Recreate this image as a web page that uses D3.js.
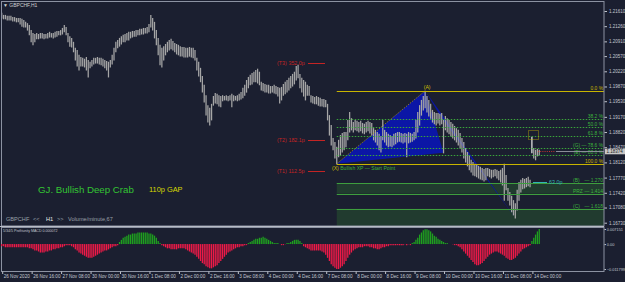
<!DOCTYPE html>
<html><head><meta charset="utf-8">
<script src="https://cdn.jsdelivr.net/npm/d3@7/dist/d3.min.js"></script>
<style>
html,body{margin:0;padding:0;background:#1b1f30;overflow:hidden;}
svg{display:block;font-family:"Liberation Sans",Arial,sans-serif;}
</style></head><body>
<svg id="chart" width="625" height="282"></svg>
<script>
// ---------------- DATA ----------------
const timeLabels = ["26 Nov 2020","26 Nov 16:00","27 Nov 08:00","30 Nov 00:00","30 Nov 16:00","1 Dec 08:00","2 Dec 00:00","2 Dec 16:00","3 Dec 08:00","4 Dec 00:00","4 Dec 16:00","7 Dec 08:00","8 Dec 00:00","8 Dec 16:00","9 Dec 08:00","10 Dec 00:00","10 Dec 16:00","11 Dec 08:00","14 Dec 00:00"];
const timeLabelBars = [0,16,32,48,64,80,96,112,128,144,160,176,192,208,224,240,256,272,288];
const priceTicks = [1.21610,1.21260,1.20910,1.20570,1.20220,1.19870,1.19530,1.19170,1.18820,1.18470,1.18120,1.17770,1.17420,1.17080,1.16730];

const highs = [
1.2157,1.2152,1.2152,1.2150,1.2150,1.2150,1.2147,1.2147,1.2145,1.2145,
1.2145,1.2143,1.2140,1.2136,1.2133,1.2129,1.2117,1.2110,1.2108,
1.2110,1.2108,1.2110,1.2110,1.2108,1.2108,1.2110,1.2113,1.2110,1.2110,1.2113,1.2115,1.2115,1.2117,1.2122,
1.2129,1.2124,
1.2110,1.2103,1.2099,1.2090,1.2076,
1.2071,1.2060,1.2055,
1.2053,1.2051,1.2055,1.2048,1.2044,1.2048,1.2053,1.2053,1.2055,1.2053,1.2053,1.2051,1.2048,1.2046,1.2044,
1.2048,1.2060,1.2076,1.2090,1.2094,1.2099,
1.2103,1.2106,1.2108,1.2110,1.2113,1.2113,
1.2115,1.2115,1.2117,1.2117,1.2120,1.2120,1.2122,1.2122,1.2124,1.2131,
1.2152,1.2145,
1.2136,1.2117,1.2099,1.2083,1.2076,1.2080,
1.2085,1.2090,1.2094,1.2097,1.2092,1.2087,1.2085,1.2083,1.2080,1.2078,1.2078,1.2076,1.2076,1.2078,1.2076,1.2076,1.2071,
1.2053,1.2044,1.2030,1.2011,1.1991,1.1967,1.1944,
1.1938,1.1947,
1.1965,1.1972,1.1970,1.1967,1.1965,1.1967,1.1965,
1.1967,1.1965,1.1967,1.1970,1.1967,1.1965,1.1967,1.1970,1.1974,
1.1984,1.1991,1.2002,1.2009,1.2014,1.2018,1.2021,
1.2025,1.2028,1.2021,
1.1998,1.1995,1.1993,1.1991,1.1991,1.1988,1.1988,1.1991,1.1988,1.1986,1.1984,1.1986,
1.1993,1.1998,1.2002,1.2007,1.2011,1.2016,1.2021,1.2034,
1.2037,
1.2016,1.2007,1.2002,1.1998,1.1991,1.1988,
1.1967,1.1965,1.1963,1.1965,1.1963,1.1961,1.1958,1.1958,1.1956,
1.1947,1.1921,1.1898,1.1868,1.1859,
1.1848,
1.1864,1.1875,1.1880,1.1882,1.1882,
1.1910,1.1928,1.1914,
1.1905,1.1910,1.1908,1.1905,1.1908,1.1903,1.1901,1.1905,1.1908,1.1905,1.1903,
1.1891,1.1887,1.1882,1.1878,1.1873,
1.1910,
1.1887,1.1882,1.1878,1.1875,1.1873,1.1878,1.1880,1.1882,
1.1882,1.1880,1.1878,1.1880,1.1878,1.1882,1.1880,1.1878,1.1882,
1.1910,1.1928,1.1944,
1.1956,1.1965,1.1977,
1.1965,1.1956,1.1947,
1.1933,1.1928,1.1926,1.1926,1.1924,1.1926,
1.1910,
1.1919,1.1914,1.1910,1.1905,1.1901,1.1896,1.1891,1.1887,1.1880,
1.1868,1.1859,1.1845,1.1836,1.1829,
1.1818,1.1813,1.1809,1.1806,1.1804,1.1802,1.1799,1.1797,1.1799,
1.1799,1.1797,1.1795,1.1795,1.1797,1.1795,1.1792,1.1795,
1.1799,1.1809,1.1783,
1.1753,1.1744,1.1735,1.1725,1.1718,
1.1749,1.1767,1.1772,1.1776,1.1774,
1.1776,1.1779,1.1772,
1.1871,
1.1845,1.1841,1.1843,1.1841
];
const lows = [
1.2145,1.2143,1.2143,1.2140,1.2140,1.2140,1.2138,1.2138,1.2136,1.2136,
1.2131,1.2126,1.2124,1.2124,1.2117,1.2106,1.2090,1.2083,1.2090,
1.2097,1.2097,1.2099,1.2099,1.2097,1.2099,1.2099,1.2101,1.2101,1.2099,1.2101,1.2103,1.2106,1.2106,1.2108,
1.2113,1.2106,
1.2090,1.2080,1.2078,1.2067,1.2048,
1.2034,1.2025,1.2034,
1.2034,1.2032,1.2025,1.2009,1.2030,1.2034,1.2039,1.2041,1.2041,1.2039,1.2037,1.2034,1.2030,1.2025,1.2009,
1.2032,1.2039,1.2048,1.2067,1.2076,1.2080,
1.2085,1.2090,1.2090,1.2094,1.2094,1.2099,
1.2101,1.2103,1.2103,1.2106,1.2106,1.2108,1.2108,1.2110,1.2110,1.2113,
1.2124,1.2117,
1.2099,1.2083,1.2060,1.2037,1.2032,1.2048,
1.2060,1.2067,1.2071,1.2074,1.2071,1.2067,1.2062,1.2060,1.2057,1.2057,1.2055,1.2055,1.2055,1.2057,1.2055,1.2053,1.2048,
1.2025,1.2011,1.1998,1.1974,1.1951,1.1921,1.1905,
1.1898,1.1910,
1.1944,1.1949,1.1947,1.1942,1.1940,1.1954,1.1956,
1.1956,1.1954,1.1956,1.1940,1.1954,1.1956,1.1954,1.1956,1.1958,
1.1961,1.1967,1.1974,1.1984,1.1991,1.1993,1.1998,
1.1998,1.1995,1.1991,
1.1979,1.1977,1.1974,1.1974,1.1972,1.1972,1.1974,1.1972,1.1970,1.1965,1.1949,1.1956,
1.1967,1.1970,1.1974,1.1979,1.1984,1.1988,1.1993,1.2002,
1.2007,
1.1984,1.1974,1.1965,1.1956,1.1967,1.1967,
1.1951,1.1949,1.1947,1.1947,1.1944,1.1942,1.1942,1.1940,1.1940,
1.1910,1.1875,1.1852,1.1841,1.1822,
1.1809,
1.1825,1.1829,1.1836,1.1841,1.1848,
1.1864,1.1882,1.1887,
1.1882,1.1887,1.1885,1.1882,1.1885,1.1880,1.1878,1.1882,1.1885,1.1880,1.1875,
1.1864,1.1859,1.1852,1.1841,1.1836,
1.1864,
1.1859,1.1852,1.1848,1.1850,1.1848,1.1852,1.1855,1.1859,
1.1861,1.1859,1.1857,1.1859,1.1825,1.1857,1.1859,1.1861,1.1864,
1.1868,1.1882,1.1898,
1.1921,1.1933,1.1938,
1.1928,1.1919,1.1914,
1.1905,1.1901,1.1898,1.1903,1.1898,1.1901,
1.1834,
1.1887,1.1882,1.1878,1.1873,1.1868,1.1864,1.1859,1.1852,1.1845,
1.1836,1.1822,1.1813,1.1804,1.1795,
1.1790,1.1783,1.1781,1.1779,1.1776,1.1774,1.1772,1.1769,1.1772,
1.1781,1.1779,1.1776,1.1779,1.1781,1.1776,1.1772,1.1767,
1.1760,1.1725,1.1749,
1.1725,1.1714,1.1698,1.1691,1.1684,
1.1702,1.1725,1.1744,1.1751,1.1753,
1.1756,1.1758,1.1756,
1.1834,
1.1822,1.1818,1.1827,1.1829
];
const macd = [
-0.0010,-0.0010,-0.0015,-0.0015,-0.0015,-0.0015,-0.0015,-0.0015,-0.0015,-0.0015,-0.0015,-0.0015,-0.0015,-0.0015,-0.0015,-0.0020,
-0.0020,-0.0025,-0.0030,-0.0030,-0.0035,-0.0040,-0.0040,-0.0040,-0.0035,-0.0035,-0.0030,-0.0030,
-0.0025,-0.0025,-0.0020,-0.0020,-0.0015,-0.0015,-0.0010,-0.0005,
-0.0005,-0.0005,
-0.0010,-0.0015,-0.0025,-0.0030,-0.0040,-0.0045,-0.0050,-0.0055,-0.0060,-0.0065,
-0.0065,-0.0065,-0.0060,-0.0055,-0.0050,-0.0045,-0.0040,
-0.0035,-0.0030,-0.0030,-0.0025,-0.0020,-0.0015,-0.0010,-0.0010,-0.0005,
0.0010,0.0020,0.0030,0.0035,0.0040,0.0045,0.0045,0.0050,0.0050,0.0050,0.0055,0.0055,0.0055,0.0055,0.0055,
0.0055,0.0050,0.0050,0.0045,0.0040,0.0030,0.0015,0.0005,
-0.0005,-0.0010,-0.0015,-0.0020,-0.0020,-0.0025,-0.0025,-0.0025,-0.0025,-0.0020,-0.0020,-0.0020,-0.0020,-0.0025,
-0.0030,-0.0035,-0.0040,-0.0045,-0.0050,-0.0060,-0.0070,-0.0080,-0.0090,-0.0095,-0.0105,-0.0110,-0.0115,-0.0115,
-0.0110,-0.0105,-0.0100,-0.0090,-0.0080,-0.0070,-0.0060,-0.0050,-0.0040,-0.0035,-0.0030,
-0.0025,-0.0020,-0.0015,-0.0015,-0.0010,-0.0010,-0.0005,-0.0005,
0.0005,0.0010,0.0015,0.0020,0.0025,0.0025,0.0030,0.0030,0.0035,0.0030,0.0025,0.0020,0.0015,
0.0010,0.0005,0.0005,0.0005,0.0001,-0.0005,-0.0005,-0.0001,0.0005,0.0005,
0.0010,0.0015,0.0020,0.0020,0.0020,0.0015,0.0005,
-0.0010,-0.0015,-0.0020,-0.0025,-0.0030,-0.0030,-0.0030,-0.0030,-0.0030,-0.0030,-0.0035,-0.0040,
-0.0050,-0.0065,-0.0080,-0.0095,-0.0105,-0.0112,-0.0118,-0.0118,-0.0112,-0.0105,
-0.0095,-0.0080,-0.0065,-0.0050,-0.0040,-0.0030,-0.0025,-0.0020,
-0.0015,-0.0015,-0.0015,-0.0010,-0.0010,-0.0010,-0.0015,-0.0015,-0.0020,-0.0020,-0.0025,-0.0025,
-0.0020,-0.0015,-0.0015,-0.0010,-0.0010,-0.0005,-0.0005,-0.0005,-0.0005,-0.0005,
-0.0005,-0.0005,-0.0005,-0.0001,-0.0005,-0.0001,-0.0005,
0.0005,0.0010,0.0020,0.0030,0.0045,0.0055,0.0065,0.0070,0.0070,0.0065,0.0060,0.0050,0.0040,0.0035,0.0025,0.0020,0.0015,0.0010,0.0005,
0.0005,0.0001,0.0001,-0.0001,-0.0005,-0.0005,
-0.0010,-0.0015,-0.0025,-0.0035,-0.0045,-0.0055,-0.0065,-0.0075,-0.0085,-0.0095,
-0.0100,-0.0100,-0.0095,-0.0090,-0.0080,-0.0070,-0.0060,-0.0050,-0.0045,
-0.0040,-0.0035,-0.0035,-0.0040,-0.0045,
-0.0050,-0.0055,-0.0065,-0.0070,-0.0075,-0.0075,-0.0070,-0.0065,
-0.0055,-0.0045,-0.0035,-0.0025,-0.0020,-0.0015,-0.0010,-0.0005,
0.0015,0.0030,0.0045,0.0060,0.0072
];
const macdTicks = [0.007151, 0, -0.011799];

// harmonic pattern points (bar index, price)
const patternPts = [
  {n:"X", i:182, p:1.1809},
  {n:"A", i:230, p:1.1977},
  {n:"B", i:240, p:1.1834},
  {n:"C", i:239, p:1.1914},
  {n:"D", i:279, p:1.1684}
];
const patternStart = 182;
const fibLabels = ["0.0 %","38.2 %","50.0 %","61.8 %","(G) — 78.6 %","(E) — 88.6 %","100.0 %"];
const fibPrices = [1.1977,1.1913,1.1893,1.1873,1.1845,1.1828,1.1809];
const extTags = ["(B)","PRZ","(C)"];
const extLabels = ["— 1.270","— 1.414","— 1.618"];
const extPrices = [1.1764,1.1740,1.1705];
const targetLabels = ["(T3) 352.0p","(T2) 182.1p","(T1) 112.5p"];
const targetPrices = [1.2040,1.1863,1.1792];
const lastPrice = 1.18374;
const gapPrice = 1.1767;

// ---------------- SCALES ----------------
const svg = d3.select("#chart");
const x = d3.scaleLinear().domain([0,288]).range([1.7,531.9]);
const y = d3.scaleLinear().domain([1.16730,1.21610]).range([222.7,11]);
const ym = d3.scaleLinear().domain([-0.011799,0.007151]).range([269,229]);
const R = 604;
const px = v => Math.round(v)+0.5;

svg.append("rect").attr("width",625).attr("height",282).attr("fill","#1b1f30");

svg.append("clipPath").attr("id","mainClip").append("rect").attr("x",2).attr("y",2).attr("width",R-2).attr("height",224);
const main = svg.append("g").attr("clip-path","url(#mainClip)");

const xs = x(patternStart);
main.append("rect").attr("x",xs).attr("y",y(extPrices[0])).attr("width",R-xs).attr("height",y(extPrices[1])-y(extPrices[0])).attr("fill","#213b2f");
main.append("rect").attr("x",xs).attr("y",y(extPrices[2])).attr("width",R-xs).attr("height",226-y(extPrices[2])).attr("fill","#213b2f");

const P = k => [x(patternPts[k].i), y(patternPts[k].p)];
main.append("path").attr("d", d3.line()([P(0),P(1),P(2)])+"Z").attr("fill","#0b16a6");
main.append("path").attr("d", d3.line()([P(1),P(3),P(4)])+"Z").attr("fill","#0b16a6");

// bars
main.append("g").selectAll("line").data(highs.map((h,i)=>({i,h,l:lows[i]}))).join("line")
  .attr("x1",d=>x(d.i)).attr("x2",d=>x(d.i))
  .attr("y1",d=>y(d.h)).attr("y2",d=>y(d.l)+0.5)
  .attr("stroke",d=>d.i===288?"#e6e6e6":"#a6a6a6").attr("stroke-width",1.25);

main.append("line").attr("x1",P(0)[0]).attr("y1",P(0)[1]).attr("x2",P(1)[0]).attr("y2",P(1)[1])
  .attr("stroke","#c9b000").attr("stroke-width",0.8).attr("stroke-dasharray","1,1.5");

fibPrices.forEach((p,k)=>{
  const yy = px(y(p));
  const edge = (k===0||k===6);
  main.append("line").attr("x1",xs).attr("x2",R).attr("y1",yy).attr("y2",yy)
    .attr("stroke",edge?"#c8b400":"#3aa63a").attr("stroke-width",1)
    .attr("stroke-dasharray",edge?null:"1.5,1.5");
  svg.append("text").attr("x",603).attr("y",yy-1.5).attr("text-anchor","end")
    .attr("font-size",4.9).attr("fill",edge?"#c8b400":"#3cb43c").text(fibLabels[k]);
});
extPrices.forEach((p,k)=>{
  const yy = px(y(p));
  main.append("line").attr("x1",xs).attr("x2",R).attr("y1",yy).attr("y2",yy).attr("stroke","#3e9e3e").attr("stroke-width",1);
  svg.append("text").attr("x",573).attr("y",yy-1.3).attr("font-size",4.9).attr("fill","#3cb43c").text(extTags[k]);
  svg.append("text").attr("x",603).attr("y",yy-1.3).attr("text-anchor","end").attr("font-size",4.9).attr("fill","#3cb43c").text(extLabels[k]);
});

svg.append("text").attr("x",P(1)[0]+2).attr("y",P(1)[1]-2.3).attr("text-anchor","middle").attr("font-size",5.2).attr("fill","#d4c000").text("(A)");
const xl = svg.append("text").attr("x",332).attr("y",y(patternPts[0].p)+6.2).attr("font-size",5.1);
xl.append("tspan").attr("fill","#d4c000").text("(X) ");
xl.append("tspan").attr("fill","#3cb43c").text("Bullish XP — Start Point");

targetPrices.forEach((p,k)=>{
  const yy = px(y(p));
  svg.append("text").attr("x",277).attr("y",yy+1.8).attr("font-size",5.4).attr("fill","#c42424").text(targetLabels[k]);
  svg.append("line").attr("x1",308).attr("x2",325).attr("y1",yy).attr("y2",yy).attr("stroke","#c42424").attr("stroke-width",1);
});

const gy = px(y(gapPrice));
svg.append("line").attr("x1",533).attr("x2",547).attr("y1",gy).attr("y2",gy).attr("stroke","#33b5b5").attr("stroke-width",1);
svg.append("text").attr("x",549).attr("y",gy+1.8).attr("font-size",5.4).attr("fill","#33b5b5").text("63.0p");

svg.append("rect").attr("x",528.5).attr("y",130.5).attr("width",10).attr("height",9).attr("fill","none")
  .attr("stroke","#c8b400").attr("stroke-width",0.8).attr("stroke-dasharray","1,1");

const ly = px(y(lastPrice));
svg.append("line").attr("x1",538).attr("x2",555).attr("y1",ly).attr("y2",ly).attr("stroke","#c03030").attr("stroke-dasharray","1,1.2");
svg.append("line").attr("x1",556).attr("x2",R).attr("y1",ly).attr("y2",ly).attr("stroke","#8a8e98");

svg.append("text").attr("x",3).attr("y",6.6).attr("font-size",5).attr("fill","#d0d0d0").text("▼ GBPCHF,H1");
svg.append("text").attr("x",38).attr("y",193.3).attr("font-size",9.7).attr("fill","#33c433").text("GJ. Bullish Deep Crab");
svg.append("text").attr("x",149).attr("y",192.3).attr("font-size",7.4).attr("fill","#d8d800").text("110p GAP");
const info = [["GBPCHF",6,"#9aa0a8"],["<<",33,"#9aa0a8"],["H1",46,"#e8e8e8"],[">>",57,"#9aa0a8"],["Volume/minute,67",68,"#9aa0a8"]];
info.forEach(d=>svg.append("text").attr("x",d[1]).attr("y",221.3).attr("font-size",5.6).attr("fill",d[2]).text(d[0]));

svg.append("rect").attr("x",1.5).attr("y",1.5).attr("width",R-1.5).attr("height",224.5).attr("fill","none").attr("stroke","#8c92a2");
svg.append("line").attr("x1",0).attr("x2",R).attr("y1",226.5).attr("y2",226.5).attr("stroke","#b8bcc6");
svg.append("rect").attr("x",1.5).attr("y",227.5).attr("width",R-1.5).attr("height",44).attr("fill","none").attr("stroke","#8c92a2");

const ya = svg.append("g").attr("transform",`translate(${R+0.5},0)`)
  .call(d3.axisRight(y).tickValues(priceTicks).tickSize(2.5).tickPadding(2).tickFormat(d3.format(".5f")));
ya.select(".domain").remove();
ya.selectAll("line").attr("stroke","#c0c4cc");
ya.selectAll("text").attr("font-size",4.5).attr("fill","#c4c8d0").attr("font-family","Liberation Sans, Arial");

svg.append("rect").attr("x",605).attr("y",ly-2.8).attr("width",20).attr("height",5.6).attr("fill","#c8c8c8");
svg.append("text").attr("x",606.5).attr("y",ly+1.7).attr("font-size",4.5).attr("fill","#202020").text(d3.format(".5f")(lastPrice));

// MACD
svg.append("g").selectAll("line").data(macd.map((v,i)=>({i,v}))).join("line")
  .attr("x1",d=>x(d.i)).attr("x2",d=>x(d.i))
  .attr("y1",ym(0)).attr("y2",d=>ym(d.v))
  .attr("stroke",d=>d.v>=0?"#1fa01f":"#ee1a48").attr("stroke-width",1.3);
svg.append("text").attr("x",3).attr("y",232).attr("font-size",3.6).attr("fill","#c0c4cc").text("5/34/5 Profitunity MACD 0.000072");
const ma = svg.append("g").attr("transform",`translate(${R+0.5},0)`)
  .call(d3.axisRight(ym).tickValues(macdTicks).tickSize(1.5).tickPadding(0.8).tickFormat(d=>d===0?"0.00":d3.format(".6f")(d)));
ma.select(".domain").remove();
ma.selectAll("line").attr("stroke","#c0c4cc");
ma.selectAll("text").attr("font-size",3.9).attr("fill","#c4c8d0").attr("font-family","Liberation Sans, Arial");

const xa = svg.append("g").attr("transform","translate(0,271.5)")
  .call(d3.axisBottom(x).tickValues(timeLabelBars).tickSize(2.5).tickFormat((d,k)=>timeLabels[k]));
xa.select(".domain").remove();
xa.selectAll("line").attr("stroke","#c0c4cc").attr("transform","translate(0.5,0)");
xa.selectAll("text").attr("text-anchor","start").attr("x",1.5).attr("y",3.2).attr("dy","0.71em")
  .attr("font-size",4.6).attr("fill","#c4c8d0").attr("font-family","Liberation Sans, Arial");
</script></body></html>
